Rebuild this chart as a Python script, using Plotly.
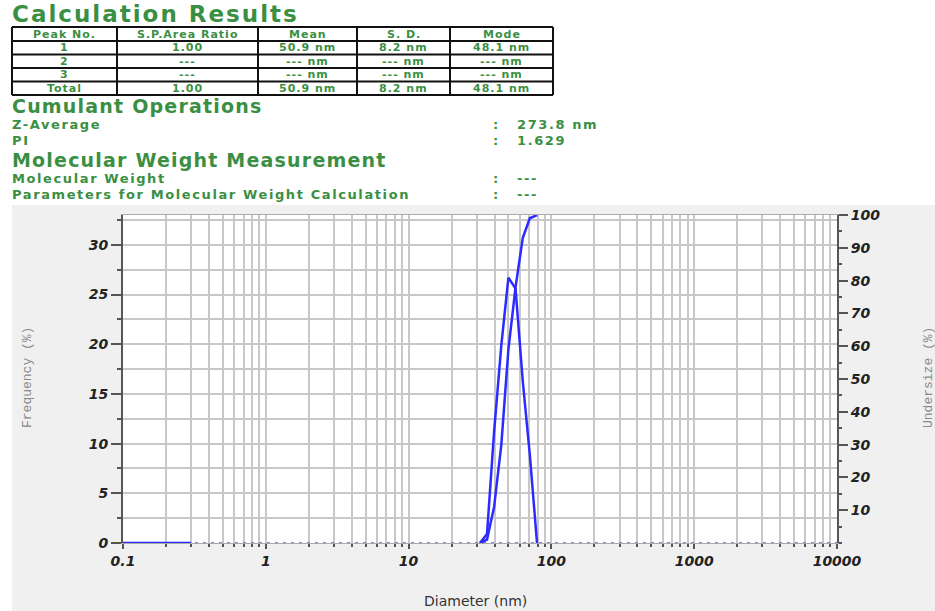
import plotly.graph_objects as go

W, H = 935, 611

# ---- measurement results -------------------------------------------------
table_header = ["Peak No.", "S.P.Area Ratio", "Mean", "S. D.", "Mode"]
table_rows = [
    ["1", "1.00", "50.9 nm", "8.2 nm", "48.1 nm"],
    ["2", "---", "--- nm", "--- nm", "--- nm"],
    ["3", "---", "--- nm", "--- nm", "--- nm"],
    ["Total", "1.00", "50.9 nm", "8.2 nm", "48.1 nm"],
]
z_average = "273.8 nm"
pi_value = "1.629"
mol_weight = "---"
mw_params = "---"

# ---- size distribution -----------------------------------------------------
diameter_nm = [31.6, 35.4, 39.7, 44.6, 50.0, 56.1, 63.0, 70.6, 79.3]
frequency_pct = [0.0, 0.9, 11.2, 19.9, 26.7, 25.6, 16.3, 8.9, 0.0]
undersize_pct = [0.0, 1.0, 11.0, 30.0, 59.0, 78.0, 93.0, 99.0, 100.0]
range_nm = [0.1, 10000]          # measurement range (zero baseline)
lead_nm = [0.1, 0.3]             # solid start of the baseline

x_tickvals = [0.1, 1, 10, 100, 1000, 10000]
x_ticktext = ["0.1", "1", "10", "100", "1000", "10000"]

GREEN = "#3a8f42"
BLUE = "#2b2bff"
GRID = "#c8c8c8"
AXIS = "#555555"
HEAD_FONT = "DejaVu Sans, Liberation Sans, Arial"

# plot-area placement in pixels
PL, PR, PT, PB = 123, 837, 215, 543


def px(x):
    return x / W


def py(y):
    return 1 - y / H


fig = go.Figure()

# zero baseline across the whole range
fig.add_trace(go.Scatter(x=range_nm, y=[0, 0], mode="lines",
                         line=dict(color="#5a5aff", width=1.6, dash="3px,5px"),
                         hoverinfo="skip", showlegend=False))
fig.add_trace(go.Scatter(x=lead_nm, y=[0, 0], mode="lines",
                         line=dict(color=BLUE, width=2.5),
                         hoverinfo="skip", showlegend=False))
# frequency distribution
fig.add_trace(go.Scatter(x=diameter_nm, y=frequency_pct, mode="lines",
                         line=dict(color=BLUE, width=2.5),
                         name="Frequency", showlegend=False))
# cumulative undersize (right axis)
fig.add_trace(go.Scatter(x=diameter_nm, y=undersize_pct, mode="lines",
                         line=dict(color=BLUE, width=2.5), yaxis="y2",
                         name="Undersize", showlegend=False))

tickfont = dict(family="DejaVu Sans, Liberation Sans", size=14, color="#222222",
                weight="bold", style="italic")

fig.update_layout(
    width=W, height=H,
    margin=dict(l=0, r=0, t=0, b=0),
    paper_bgcolor="white",
    plot_bgcolor="white",
    xaxis=dict(
        type="log", range=[-1, 4],
        domain=[px(PL), px(PR)],
        tickvals=x_tickvals, ticktext=x_ticktext,
        tickfont=tickfont,
        showgrid=True, gridcolor=GRID, gridwidth=2,
        ticks="outside", ticklen=5, tickwidth=2, tickcolor=AXIS,
        minor=dict(dtick="D1", showgrid=True, gridcolor=GRID, gridwidth=2,
                   ticks="outside", ticklen=3, tickwidth=2, tickcolor=AXIS),
        showline=True, linecolor="#aaaaaa", linewidth=1, mirror=True,
        zeroline=False, automargin=False,
    ),
    yaxis=dict(
        range=[0, 33], domain=[py(PB), py(PT)],
        dtick=5, tickfont=tickfont,
        showgrid=True, gridcolor=GRID, gridwidth=2,
        ticks="outside", ticklen=10, tickwidth=2, tickcolor=AXIS,
        minor=dict(dtick=2.5, showgrid=True, gridcolor=GRID, gridwidth=2,
                   ticks="outside", ticklen=4, tickwidth=2, tickcolor=AXIS),
        showline=True, linecolor=AXIS, linewidth=2,
        zeroline=False, automargin=False,
    ),
    yaxis2=dict(
        range=[0, 100], overlaying="y", side="right", anchor="x",
        tickfont=tickfont,
        tickvals=[10, 20, 30, 40, 50, 60, 70, 80, 90, 100],
        showgrid=False,
        ticks="outside", ticklen=9, tickwidth=2, tickcolor=AXIS,
        minor=dict(dtick=5, ticks="outside", ticklen=3, tickwidth=2,
                   tickcolor=AXIS, showgrid=False),
        showline=True, linecolor=AXIS, linewidth=2,
        zeroline=False, automargin=False,
    ),
)

shapes = [
    # grey chart panel and white plotting area
    dict(type="rect", xref="paper", yref="paper", x0=px(12), x1=1,
         y0=0, y1=py(205), fillcolor="#f0f0f0", line=dict(width=0),
         layer="below"),
    dict(type="rect", xref="paper", yref="paper", x0=px(PL), x1=px(PR),
         y0=py(PB), y1=py(PT), fillcolor="white", line=dict(width=0),
         layer="below"),
]

# results table grid
col_edges = [12, 117, 258, 357, 450, 553]
row_edges = [27, 41, 54.5, 68, 81.5, 95]
for xe in col_edges:
    shapes.append(dict(type="line", xref="paper", yref="paper",
                       x0=px(xe), x1=px(xe), y0=py(row_edges[0]), y1=py(row_edges[-1]),
                       line=dict(color="#111111", width=2)))
for ye in row_edges:
    shapes.append(dict(type="line", xref="paper", yref="paper",
                       x0=px(col_edges[0]), x1=px(col_edges[-1]), y0=py(ye), y1=py(ye),
                       line=dict(color="#111111", width=2)))
fig.update_layout(shapes=shapes)

ann = []


def text(x, y, s, size, anchor="left", spacing=0.0, color=GREEN, family=HEAD_FONT):
    label = s
    if spacing:
        label = "<span style='letter-spacing:%.1fpx'>%s</span>" % (spacing, s)
    ann.append(dict(x=px(x), y=py(y), xref="paper", yref="paper", text=label,
                    showarrow=False, xanchor=anchor, yanchor="middle",
                    borderpad=0,
                    font=dict(size=size, color=color, family=family,
                              weight="bold")))


text(11, 13.8, "Calculation Results", 23, spacing=2.0)
all_rows = [table_header] + table_rows
for r, row in enumerate(all_rows):
    yc = (row_edges[r] + row_edges[r + 1]) / 2
    for c, cell in enumerate(row):
        xc = (col_edges[c] + col_edges[c + 1]) / 2
        text(xc, yc, cell, 11, anchor="center", spacing=1.0)

text(11, 105.8, "Cumulant Operations", 19, spacing=1.2)
text(11, 124.5, "Z-Average", 13, spacing=1.6)
text(11, 140, "PI", 13, spacing=1.6)
text(11, 159.5, "Molecular Weight Measurement", 19, spacing=1.2)
text(11, 178.5, "Molecular Weight", 13, spacing=1.6)
text(11, 194.5, "Parameters for Molecular Weight Calculation", 13, spacing=1.6)
for yy, val in [(124.5, z_average), (140, pi_value), (178.5, mol_weight), (194.5, mw_params)]:
    text(492, yy, ":", 13)
    text(516, yy, val, 13, spacing=1.6)

# axis titles
ann.append(dict(x=px(27), y=py(378), xref="paper", yref="paper",
                text="Frequency (%)", showarrow=False, textangle=-90,
                xanchor="center", yanchor="middle",
                font=dict(size=13, color="#8a8a8a", family="Liberation Mono, DejaVu Sans Mono")))
ann.append(dict(x=px(928), y=py(378), xref="paper", yref="paper",
                text="Undersize (%)", showarrow=False, textangle=-90,
                xanchor="center", yanchor="middle",
                font=dict(size=13, color="#8a8a8a", family="Liberation Mono, DejaVu Sans Mono")))
ann.append(dict(x=px(475), y=py(601), xref="paper", yref="paper",
                text="Diameter (nm)", showarrow=False,
                xanchor="center", yanchor="middle",
                font=dict(size=14, color="#333333", family="DejaVu Sans, Arial")))
fig.update_layout(annotations=ann)

fig.write_html("out.html",
               post_script="document.body.style.margin='0';"
                           "document.body.style.overflow='hidden';")
